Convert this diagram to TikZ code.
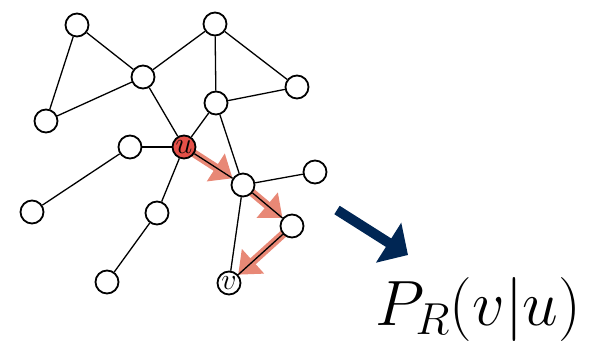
\documentclass[tikz,border=0pt]{standalone}
\usepackage{fix-cm}
\usepackage{amsmath}
\usepackage{amssymb}
\usetikzlibrary{arrows.meta}
\definecolor{walkred}{RGB}{232,136,118}
\definecolor{ured}{RGB}{228,80,72}
\definecolor{navy}{RGB}{0,38,84}
\pgfdeclarelayer{background}
\pgfsetlayers{background,main}
\tikzset{
    vertex/.style={circle, draw, line width=1.8pt, fill=white, minimum size=23pt, inner sep=0pt,
        font=\fontsize{30}{34}\selectfont},
    edge/.style={line width=1.3pt},
    walk/.style={walkred, line width=8pt, -{Triangle[length=20pt, width=32pt]}},
    bigarrow/.style={navy, line width=10pt, -{Triangle[length=23pt, width=46pt]}}
}

\begin{document}
\begin{tikzpicture}[x=1pt, y=-1pt]
    \useasboundingbox (0,0) rectangle (591,342);
    \node[vertex] (n1) at (77,25) {};
    \node[vertex] (hub) at (143,77) {};
    \node[vertex] (n3) at (215,24) {};
    \node[vertex] (n4) at (46,121) {};
    \node[vertex] (n5) at (297,87) {};
    \node[vertex] (n6) at (216,103) {};
    \node[vertex] (n7) at (130,147) {};
    \node[vertex, fill=ured] (u) at (184,147) {$u$};
    \node[vertex] (n8) at (32,212) {};
    \node[vertex] (n9) at (157,213) {};
    \node[vertex] (n10) at (107,282) {};
    \node[vertex] (n11) at (243,185) {};
    \node[vertex] (n12) at (315,172) {};
    \node[vertex] (n13) at (292,226) {};
    \node[vertex] (v) at (229,283) {$v$};

    \begin{pgfonlayer}{background}
        % random walk from u to v
        \draw[walk] (u.center) -- (n11);
        \draw[walk] (n11.center) -- (n13);
        \draw[walk] (n13.center) -- (v);
        \foreach \a/\b in {n1/hub, n1/n4, hub/n3, hub/n4, hub/u, n3/n6, n3/n5, n6/n5,
            n6/u, n6/n11, n7/u, n7/n8, u/n9, n9/n10, u/n11, n11/n12, n11/n13, n11/v, n13/v}
            \draw[edge] (\a) -- (\b);
    \end{pgfonlayer}

    \coordinate (arrstart) at (337,210);
    \coordinate (arrend) at (408,255);
    \draw[bigarrow] (arrstart) -- (arrend);
    \node[anchor=base west, inner sep=0pt, font=\fontsize{64}{70}\selectfont] (prob) at (375,325) {$P_R(v|u)$};
\end{tikzpicture}
\end{document}
